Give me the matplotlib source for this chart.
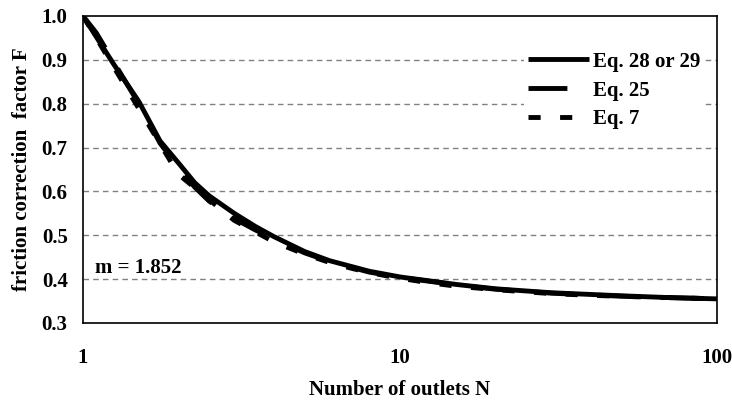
import matplotlib
matplotlib.use('Agg')
import matplotlib.pyplot as plt

# values
n_eq28 = [1, 1.25, 1.5, 1.75, 2, 2.25, 2.5, 3, 3.5, 4, 5, 6, 8, 10, 15, 20, 30, 50, 70, 100]
f_eq28 = [1.0, 0.89, 0.805, 0.715, 0.665, 0.62, 0.59, 0.55, 0.52, 0.497, 0.463, 0.442,
          0.418, 0.405, 0.388, 0.378, 0.369, 0.362, 0.358, 0.355]

n_eq25 = [1, 1.1, 1.25, 1.5, 1.75, 2, 2.25, 2.5, 3, 3.5, 4, 5, 6, 8, 10, 15, 20, 30, 50, 70, 100]
f_eq25 = [1.0, 0.962, 0.895, 0.80, 0.71, 0.655, 0.61, 0.578, 0.538, 0.512, 0.492, 0.46, 0.44,
          0.416, 0.404, 0.387, 0.377, 0.368, 0.361, 0.358, 0.355]

n_eq7 = [1, 2, 3, 4, 5, 6, 7, 8, 9, 10, 12, 15, 20, 25, 30, 40, 50, 60, 70, 80, 90, 100]
f_eq7 = [1.0, 0.639, 0.534, 0.485, 0.457, 0.438, 0.425, 0.415, 0.408, 0.402, 0.393, 0.384,
         0.376, 0.371, 0.367, 0.363, 0.361, 0.359, 0.358, 0.357, 0.356, 0.356]

y_ticks = [0.3, 0.4, 0.5, 0.6, 0.7, 0.8, 0.9, 1.0]
x_ticks = [1, 10, 100]

plt.rcParams['font.family'] = 'Liberation Serif'
plt.rcParams['font.weight'] = 'bold'
plt.rcParams['axes.labelweight'] = 'bold'
plt.rcParams['font.size'] = 15

fig = plt.figure(figsize=(7.32, 4.04), dpi=100)
ax = fig.add_axes([0.1134, 0.2005, 0.8661, 0.7599])

lw = 3.5
ax.plot(n_eq28, f_eq28, color='black', lw=lw, solid_capstyle='butt', label='Eq. 28 or 29')
ax.plot(n_eq25, f_eq25, color='black', lw=lw, linestyle=(0, (8, 5)), dash_capstyle='butt', label='Eq. 25')
ax.plot(n_eq7, f_eq7, color='black', lw=lw, linestyle=(0, (2.5, 4)), dash_capstyle='butt', label='Eq. 7')

ax.set_xscale('log')
ax.set_xlim(1, 100)
ax.set_ylim(0.3, 1.0)
ax.set_xticks(x_ticks)
ax.set_xticklabels(['1', '10', '100'])
ax.minorticks_off()
ax.set_yticks(y_ticks)
ax.set_yticklabels(['%.1f' % v for v in y_ticks])
ax.tick_params(axis='x', length=0, pad=18)
ax.tick_params(axis='y', length=0, pad=11)

for v in y_ticks[1:-1]:
    ax.axhline(v, color='#808080', lw=1, linestyle=(0, (4, 3)), zorder=0)

for sp in ax.spines.values():
    sp.set_linewidth(1.2)
    sp.set_color('black')

ax.set_xlabel('Number of outlets N', labelpad=9)
ax.set_ylabel('friction correction  factor F', labelpad=7)

ax.text(1.09, 0.425, 'm = 1.852', va='center', ha='left')

leg = ax.legend(loc='upper right', bbox_to_anchor=(0.98, 0.897), frameon=True, fancybox=False,
                edgecolor='none', facecolor='white', framealpha=1, handlelength=2.9,
                handletextpad=0.2, labelspacing=0.42, borderpad=0.2, borderaxespad=0)

fig.savefig('out.png', dpi=100)
